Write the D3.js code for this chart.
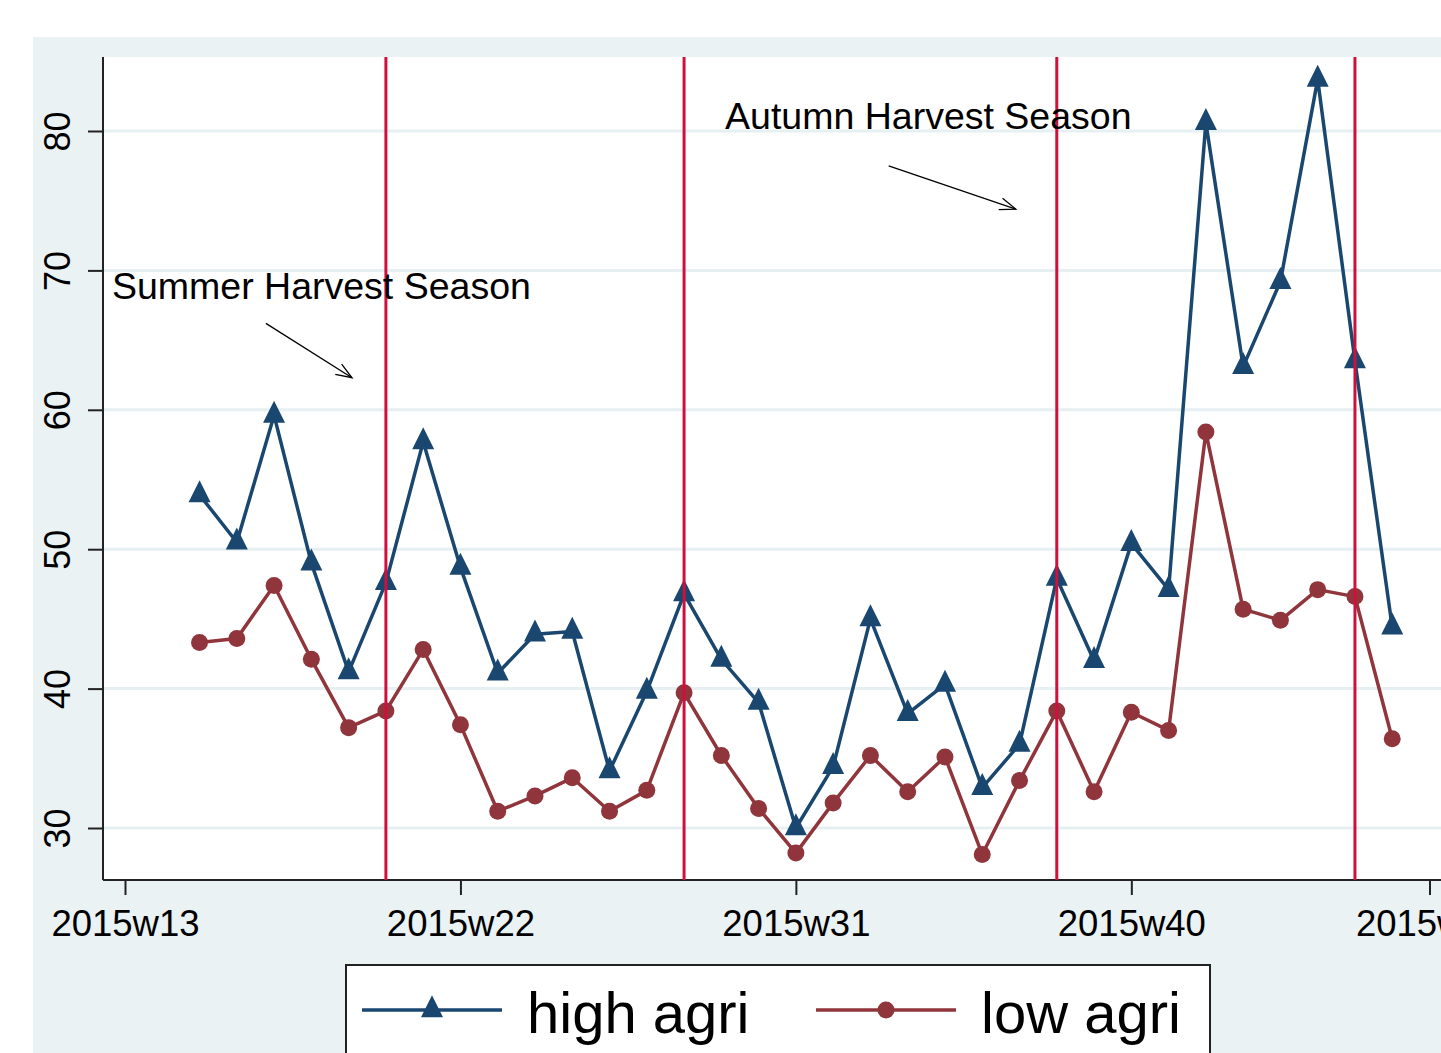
<!DOCTYPE html>
<html>
<head>
<meta charset="utf-8">
<script src="https://cdn.jsdelivr.net/npm/d3@7"></script>
<style>
  body { margin: 0; background: #ffffff; }
  svg text { font-family: "Liberation Sans", Arial, sans-serif; fill: #000; }
</style>
</head>
<body>
<div id="chart"></div>
<script>
// weekly data, 2015w15 .. 2015w47
var weeks = [15, 16, 17, 18, 19, 20, 21, 22, 23, 24, 25, 26, 27, 28, 29, 30, 31,
  32, 33, 34, 35, 36, 37, 38, 39, 40, 41, 42, 43, 44, 45, 46, 47];
var highAgri = [53.9, 50.5, 59.6, 49.0, 41.2, 47.6, 57.7, 48.7, 41.1, 43.9, 44.1,
  34.1, 39.8, 46.8, 42.1, 39.0, 30.0, 34.4, 45.0, 38.2, 40.3, 32.9, 36.0, 47.9,
  42.0, 50.4, 47.1, 80.6, 63.1, 69.2, 83.7, 63.5, 44.4];
var lowAgri = [43.3, 43.6, 47.4, 42.1, 37.2, 38.4, 42.8, 37.4, 31.2, 32.3, 33.6,
  31.2, 32.7, 39.7, 35.2, 31.4, 28.2, 31.8, 35.2, 32.6, 35.1, 28.1, 33.4, 38.4,
  32.6, 38.3, 37.0, 58.4, 45.7, 44.9, 47.1, 46.6, 36.4];
var seriesNames = ["high agri", "low agri"];
var xTicks = [13, 22, 31, 40, 48];
var yTicks = [30, 40, 50, 60, 70, 80];
var seasonLines = [20, 28, 38, 46];
// annotations: text at [week, value], arrows from [w, v] to [w, v]
var notes = [
  { text: "Summer Harvest Season", x: 12.65, y: 68.9, ax1: 16.78, ay1: 66.2, ax2: 19.09, ay2: 62.3 },
  { text: "Autumn Harvest Season", x: 29.1, y: 81.1, ax1: 33.49, ay1: 77.5, ax2: 36.9, ay2: 74.4 }
];

// stata-like triangle: as wide as it is tall, centred on its centroid
var triangleTall = {
  draw: function(context, size) {
    var s = Math.sqrt(size * 2);
    context.moveTo(0, -2 * s / 3);
    context.lineTo(s / 2, s / 3);
    context.lineTo(-s / 2, s / 3);
    context.closePath();
  }
};

class LineGraph {
  constructor() {
    this.W = 1441;
    this.H = 1053;
    this.plot = { left: 103, top: 57, right: 1460, bottom: 880 };
    this.navy = "#1a476f";
    this.maroon = "#90353b";
    this.layout();
  }

  layout() {
    this.svg = d3.select("#chart").append("svg")
      .attr("width", this.W)
      .attr("height", this.H);

    // graph region + plot region
    this.svg.append("rect")
      .attr("x", 33).attr("y", 37)
      .attr("width", this.W - 33).attr("height", this.H - 37)
      .attr("fill", "#eaf2f3");
    this.svg.append("rect")
      .attr("x", this.plot.left).attr("y", this.plot.top)
      .attr("width", this.plot.right - this.plot.left)
      .attr("height", this.plot.bottom - this.plot.top)
      .attr("fill", "#ffffff");

    this.xScale = d3.scaleLinear().domain([13, 48]).range([125, 1429.5]);
    this.yScale = d3.scaleLinear().domain([30, 80]).range([828, 131]);

    this.drawGrid();
    this.drawAxes();
    this.drawSeries();
    this.drawSeasonLines();
    this.drawNotes();
    this.drawLegend();
  }

  drawGrid() {
    this.svg.append("g").selectAll("line")
      .data(yTicks)
      .join("line")
      .attr("x1", this.plot.left)
      .attr("x2", this.plot.right)
      .attr("y1", d => this.yScale(d))
      .attr("y2", d => this.yScale(d))
      .style("stroke", "#e6eff1")
      .style("stroke-width", 3);
  }

  drawAxes() {
    var y_axis = d3.axisLeft(this.yScale)
      .tickValues(yTicks)
      .tickSize(15)
      .tickSizeOuter(0);
    var g = this.svg.append("g")
      .attr("transform", "translate(" + this.plot.left + ",0)")
      .call(y_axis);
    g.select(".domain").remove();
    g.selectAll(".tick line").style("stroke", "#222").style("stroke-width", 2);
    g.selectAll(".tick text")
      .attr("x", 0).attr("y", -33).attr("dy", 0)
      .attr("transform", "rotate(-90)")
      .style("text-anchor", "middle")
      .style("font-size", "36px")
      .style("font-family", "'Liberation Sans', Arial, sans-serif");

    var x_axis = d3.axisBottom(this.xScale)
      .tickValues(xTicks)
      .tickSize(15)
      .tickPadding(15)
      .tickSizeOuter(0)
      .tickFormat(d => "2015w" + d);
    var gx = this.svg.append("g")
      .attr("transform", "translate(0," + this.plot.bottom + ")")
      .call(x_axis);
    gx.select(".domain").remove();
    gx.selectAll(".tick line").style("stroke", "#222").style("stroke-width", 2);
    gx.selectAll(".tick text")
      .style("font-size", "36.5px")
      .style("font-family", "'Liberation Sans', Arial, sans-serif");

    // axis lines
    this.svg.append("line")
      .attr("x1", this.plot.left).attr("x2", this.plot.left)
      .attr("y1", this.plot.top).attr("y2", this.plot.bottom)
      .style("stroke", "#222").style("stroke-width", 2);
    this.svg.append("line")
      .attr("x1", this.plot.left).attr("x2", this.plot.right)
      .attr("y1", this.plot.bottom).attr("y2", this.plot.bottom)
      .style("stroke", "#222").style("stroke-width", 2);
  }

  drawSeries() {
    var sets = [
      { vals: highAgri, color: this.navy, sym: triangleTall, size: 242 },
      { vals: lowAgri, color: this.maroon, sym: d3.symbolCircle, size: 227 }
    ];
    var line = d3.line()
      .x((d, i) => this.xScale(weeks[i]))
      .y(d => this.yScale(d));
    sets.forEach(s => {
      this.svg.append("path")
        .datum(s.vals)
        .attr("fill", "none")
        .attr("stroke", s.color)
        .attr("stroke-width", 3.5)
        .attr("stroke-linejoin", "round")
        .attr("d", line);
      this.svg.append("g").selectAll("path")
        .data(s.vals)
        .join("path")
        .attr("transform", (d, i) => "translate(" + this.xScale(weeks[i]) + "," + this.yScale(d) + ")")
        .attr("d", d3.symbol().type(s.sym).size(s.size))
        .attr("fill", s.color);
    });
  }

  drawSeasonLines() {
    this.svg.append("g").selectAll("line")
      .data(seasonLines)
      .join("line")
      .attr("x1", d => this.xScale(d))
      .attr("x2", d => this.xScale(d))
      .attr("y1", this.plot.top)
      .attr("y2", this.plot.bottom)
      .style("stroke", "#d0103c")
      .style("stroke-width", 3);
  }

  drawNotes() {
    var defs = this.svg.append("defs");
    defs.append("marker")
      .attr("id", "arrow")
      .attr("viewBox", "0 0 20 20")
      .attr("refX", 18).attr("refY", 10)
      .attr("markerWidth", 20).attr("markerHeight", 20)
      .attr("markerUnits", "userSpaceOnUse")
      .attr("orient", "auto")
      .append("path")
      .attr("d", "M2,4 L18,10 L2,16")
      .attr("fill", "none")
      .attr("stroke", "#000")
      .attr("stroke-width", 1.3);

    this.svg.append("g").selectAll("line")
      .data(notes)
      .join("line")
      .attr("x1", d => this.xScale(d.ax1))
      .attr("y1", d => this.yScale(d.ay1))
      .attr("x2", d => this.xScale(d.ax2))
      .attr("y2", d => this.yScale(d.ay2))
      .style("stroke", "#000")
      .style("stroke-width", 1.3)
      .attr("marker-end", "url(#arrow)");

    this.svg.append("g").selectAll("text")
      .data(notes)
      .join("text")
      .attr("x", d => this.xScale(d.x))
      .attr("y", d => this.yScale(d.y))
      .attr("dy", "0.35em")
      .style("font-size", "37.5px")
      .text(d => d.text);
  }

  drawLegend() {
    var lg = this.svg.append("g");
    lg.append("rect")
      .attr("x", 346).attr("y", 965)
      .attr("width", 864).attr("height", 120)
      .attr("fill", "#ffffff")
      .attr("stroke", "#222")
      .attr("stroke-width", 2);
    var items = [
      { name: seriesNames[0], color: this.navy, sym: triangleTall, size: 242, x: 362 },
      { name: seriesNames[1], color: this.maroon, sym: d3.symbolCircle, size: 227, x: 816 }
    ];
    items.forEach(it => {
      lg.append("line")
        .attr("x1", it.x).attr("x2", it.x + 140)
        .attr("y1", 1010).attr("y2", 1010)
        .style("stroke", it.color).style("stroke-width", 3.5);
      lg.append("path")
        .attr("transform", "translate(" + (it.x + 70) + ",1010)")
        .attr("d", d3.symbol().type(it.sym).size(it.size))
        .attr("fill", it.color);
      lg.append("text")
        .attr("x", it.x + 165)
        .attr("y", 1033)
        .style("font-size", "58px")
        .text(it.name);
    });
  }
}

new LineGraph();
</script>
</body>
</html>
